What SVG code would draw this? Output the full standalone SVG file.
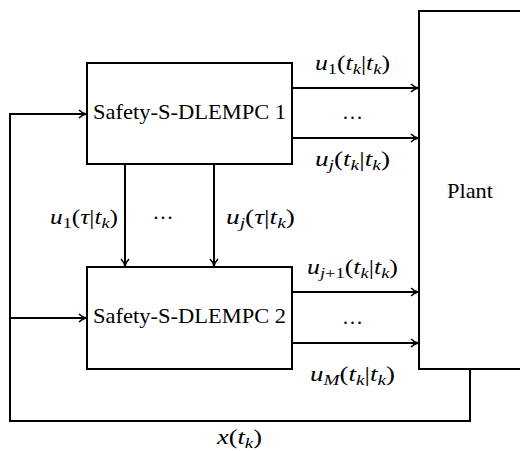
<svg xmlns="http://www.w3.org/2000/svg" width="520" height="451" viewBox="0 0 520 451">
<style>
.box{fill:#fff;stroke:#000;stroke-width:2}
.ln{fill:none;stroke:#000;stroke-width:2}
.arr{marker-end:url(#ah)}
.t{font-family:'Liberation Serif',serif;font-size:21px;fill:#000}
.q{font-size:21px}
.m{text-anchor:middle}
.i{font-style:italic}
.s{font-size:15px}
</style>
<defs>
<marker id="ah" viewBox="0 0 10 10" refX="9" refY="5" markerWidth="10" markerHeight="10" markerUnits="userSpaceOnUse" orient="auto">
<path d="M2,1 Q5,4 9,5 Q5,6 2,9" fill="none" stroke="#000" stroke-width="1.6"/>
</marker>
</defs>
<rect width="520" height="451" fill="#fff"/>
<g id="connectors">
<path class="ln arr" d="M292,88 H418"/>
<path class="ln arr" d="M292,138 H418"/>
<path class="ln arr" d="M292,292 H418"/>
<path class="ln arr" d="M292,343 H418"/>
<path class="ln arr" d="M125,164 V266"/>
<path class="ln arr" d="M214,164 V266"/>
<path class="ln arr" d="M470,369 V421 H10 V114 H86"/>
<path class="ln arr" d="M10,318 H86"/>
</g>
<g id="plant">
<path class="box" d="M521,11 H419 V369 H521"/>
<text class="t m" x="470" y="198" textLength="46" lengthAdjust="spacingAndGlyphs">Plant</text>
</g>
<g id="mpc1">
<rect class="box" x="87" y="63" width="205" height="101"/>
<text class="t m" x="189.5" y="119" textLength="193" lengthAdjust="spacingAndGlyphs">Safety-S-DLEMPC 1</text>
</g>
<g id="mpc2">
<rect class="box" x="87" y="267" width="205" height="102"/>
<text class="t m" x="189.5" y="323" textLength="193" lengthAdjust="spacingAndGlyphs">Safety-S-DLEMPC 2</text>
</g>
<g id="labels">
<text class="t q m" x="352.5" y="70" textLength="75" lengthAdjust="spacingAndGlyphs"><tspan class="i">u</tspan><tspan class="s" dy="4">1</tspan><tspan dy="-4">(</tspan><tspan class="i">t</tspan><tspan class="i s" dy="4">k</tspan><tspan dy="-4">|</tspan><tspan class="i">t</tspan><tspan class="i s" dy="4">k</tspan><tspan dy="-4">)</tspan></text>
<text class="t m" x="352.5" y="119" textLength="21" lengthAdjust="spacingAndGlyphs">…</text>
<text class="t q m" x="352.5" y="166" textLength="75" lengthAdjust="spacingAndGlyphs"><tspan class="i">u</tspan><tspan class="i s" dy="4">j</tspan><tspan dy="-4">(</tspan><tspan class="i">t</tspan><tspan class="i s" dy="4">k</tspan><tspan dy="-4">|</tspan><tspan class="i">t</tspan><tspan class="i s" dy="4">k</tspan><tspan dy="-4">)</tspan></text>
<text class="t q m" x="84" y="224" textLength="68" lengthAdjust="spacingAndGlyphs"><tspan class="i">u</tspan><tspan class="s" dy="4">1</tspan><tspan dy="-4">(</tspan><tspan class="i">τ</tspan>|<tspan class="i">t</tspan><tspan class="i s" dy="4">k</tspan><tspan dy="-4">)</tspan></text>
<text class="t m" x="163" y="219" textLength="21" lengthAdjust="spacingAndGlyphs">…</text>
<text class="t q m" x="260.5" y="224" textLength="69" lengthAdjust="spacingAndGlyphs"><tspan class="i">u</tspan><tspan class="i s" dy="4">j</tspan><tspan dy="-4">(</tspan><tspan class="i">τ</tspan>|<tspan class="i">t</tspan><tspan class="i s" dy="4">k</tspan><tspan dy="-4">)</tspan></text>
<text class="t q m" x="352.5" y="274" textLength="91" lengthAdjust="spacingAndGlyphs"><tspan class="i">u</tspan><tspan class="s" dy="4"><tspan class="i">j</tspan>+1</tspan><tspan dy="-4">(</tspan><tspan class="i">t</tspan><tspan class="i s" dy="4">k</tspan><tspan dy="-4">|</tspan><tspan class="i">t</tspan><tspan class="i s" dy="4">k</tspan><tspan dy="-4">)</tspan></text>
<text class="t m" x="352.5" y="324" textLength="21" lengthAdjust="spacingAndGlyphs">…</text>
<text class="t q m" x="352.5" y="381" textLength="85" lengthAdjust="spacingAndGlyphs"><tspan class="i">u</tspan><tspan class="i s" dy="4">M</tspan><tspan dy="-4">(</tspan><tspan class="i">t</tspan><tspan class="i s" dy="4">k</tspan><tspan dy="-4">|</tspan><tspan class="i">t</tspan><tspan class="i s" dy="4">k</tspan><tspan dy="-4">)</tspan></text>
<text class="t q m" x="239.5" y="444" textLength="45" lengthAdjust="spacingAndGlyphs"><tspan class="i">x</tspan>(<tspan class="i">t</tspan><tspan class="i s" dy="4">k</tspan><tspan dy="-4">)</tspan></text>
</g>
</svg>
